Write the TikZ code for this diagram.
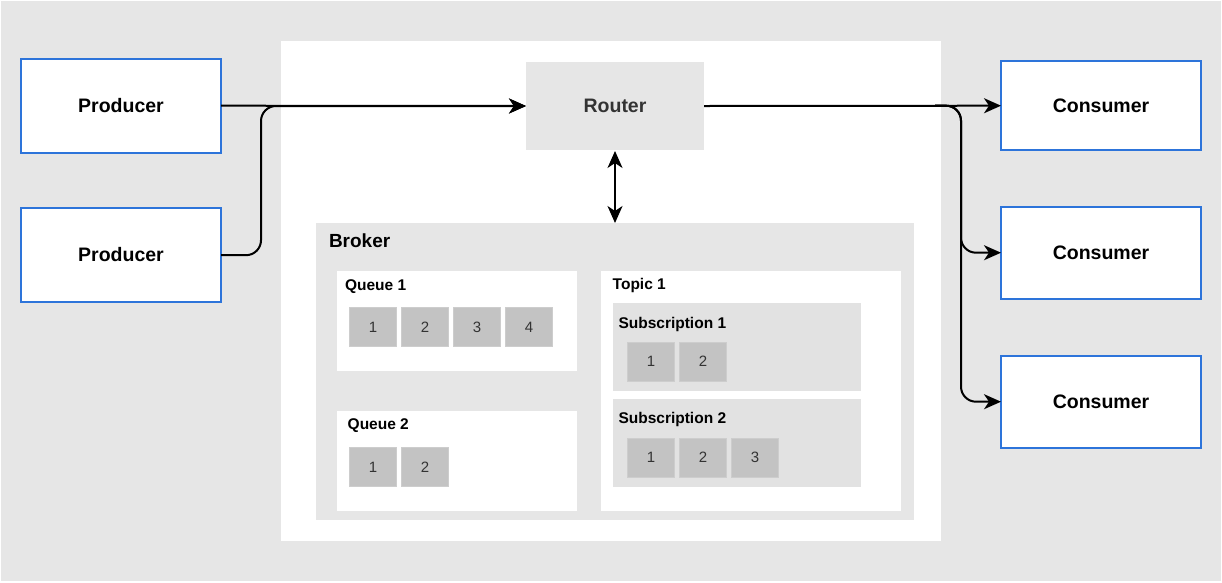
\documentclass[tikz,border=0pt]{standalone}
\usepackage{fontspec}
\setmainfont{Liberation Sans}
\usetikzlibrary{arrows.meta}
\definecolor{bg}{HTML}{E6E6E6}
\definecolor{subbg}{HTML}{E2E2E2}
\definecolor{msgfill}{HTML}{C3C3C3}
\definecolor{msgedge}{HTML}{CDCDCD}
\definecolor{blueedge}{HTML}{2D74DA}
\definecolor{dtext}{HTML}{333333}
\tikzset{
  every node/.style={inner sep=0pt, outer sep=0pt},
  endbox/.style={draw=blueedge, fill=white, line width=2pt, minimum width=200pt, minimum height=92pt,
    font=\fontsize{19.5}{22}\selectfont\bfseries},
  panel/.style={fill=white, draw=none},
  subpanel/.style={fill=subbg, draw=none, minimum width=248pt, minimum height=88pt},
  msg/.style={fill=msgfill, draw=msgedge, line width=1pt, minimum width=47pt, minimum height=39pt,
    text=dtext, font=\fontsize{15}{18}\selectfont},
  lbl/.style={anchor=base west, font=\fontsize{15.5}{18}\selectfont\bfseries},
  conn/.style={line width=2pt, -{Stealth[length=17pt,width=15pt,inset=5pt]}},
}
\begin{document}
\begin{tikzpicture}[x=1pt,y=-1pt]
\useasboundingbox (0,0) rectangle (1222,582);
\fill[bg] (1,1) rectangle (1221,581);
% central white area
\node[panel, minimum width=660pt, minimum height=500pt] (core) at (611,291) {};
% router
\node[fill=bg, minimum width=178pt, minimum height=88pt, text=dtext,
  font=\fontsize{19.5}{22}\selectfont\bfseries] (router) at (615,106) {Router};
% broker
\node[fill=bg, minimum width=598pt, minimum height=297pt] (broker) at (615,371.5) {};
\node[anchor=base west, font=\fontsize{19}{22}\selectfont\bfseries] (brokerlbl) at (329,247.3) {Broker};
% queues
\node[panel, minimum width=240pt, minimum height=100pt] (q1) at (457,321) {};
\node[lbl] (q1lbl) at (345,290.7) {Queue 1};
\node[msg] (q1m1) at (373,327) {1};
\node[msg] (q1m2) at (425,327) {2};
\node[msg] (q1m3) at (477,327) {3};
\node[msg] (q1m4) at (529,327) {4};
\node[panel, minimum width=240pt, minimum height=100pt] (q2) at (457,461) {};
\node[lbl] (q2lbl) at (347.7,429) {Queue 2};
\node[msg] (q2m1) at (373,467) {1};
\node[msg] (q2m2) at (425,467) {2};
% topic
\node[panel, minimum width=300pt, minimum height=240pt] (topic) at (751,391) {};
\node[lbl] (topiclbl) at (612.7,289.3) {Topic 1};
\node[subpanel] (s1) at (737,347) {};
\node[lbl] (s1lbl) at (618.5,328) {Subscription 1};
\node[msg] (s1m1) at (651,361.5) {1};
\node[msg] (s1m2) at (703,361.5) {2};
\node[subpanel] (s2) at (737,443) {};
\node[lbl] (s2lbl) at (618.5,423.5) {Subscription 2};
\node[msg] (s2m1) at (651,457.7) {1};
\node[msg] (s2m2) at (703,457.7) {2};
\node[msg] (s2m3) at (755,457.7) {3};
% producers
\node[endbox, minimum height=94pt] (p1) at (121,105.7) {\raisebox{1.5pt}{Producer}};
\node[endbox, minimum height=94pt] (p2) at (121,255.2) {\raisebox{2.5pt}{Producer}};
% consumers
\node[endbox, minimum height=89pt] (c1) at (1101,105.7) {Consumer};
\node[endbox] (c2) at (1101,252.7) {Consumer};
\node[endbox] (c3) at (1101,401.7) {Consumer};
% connectors
\coordinate (fork) at (935,105.7);
\draw[conn] (p1.east) -- (router.west);
\draw[conn, rounded corners=15pt] (p2.east) -- (261,255.2) |- (router.west);
\draw[conn] (router.east) -- (c1.west);
\draw[conn, rounded corners=15pt] (fork) -- (961,105.7) |- (c2.west);
\draw[conn, rounded corners=15pt] (fork) -- (961,105.7) |- (c3.west);
\draw[line width=2pt, {Stealth[length=17pt,width=15pt,inset=5pt]}-{Stealth[length=17pt,width=15pt,inset=5pt]}]
  (router.south) ++(0,1) -- (broker.north);
\end{tikzpicture}
\end{document}
